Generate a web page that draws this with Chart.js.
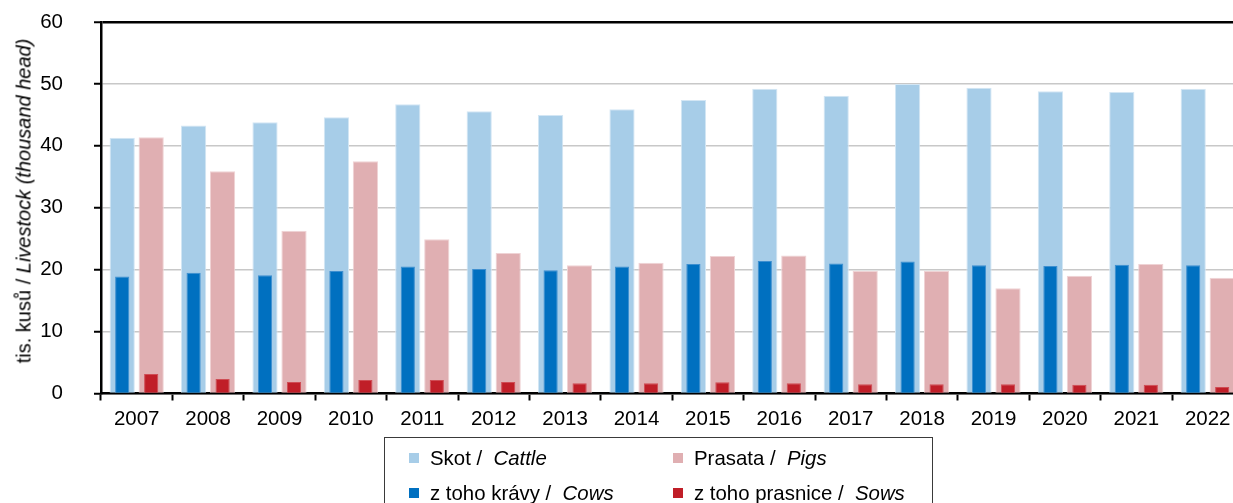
<!DOCTYPE html>
<html lang="cs">
<head>
    <meta charset="UTF-8">
    <title>Skot a prasata</title>
    <script src="https://cdn.jsdelivr.net/npm/chart.js"></script>
    <style>
        html, body { margin: 0; padding: 0; background: #fff; }
        body { font-family: "Liberation Sans", Arial, sans-serif; color: #000; }
        .wrap { position: relative; width: 1233px; height: 503px; overflow: hidden; }
        #chart { position: absolute; left: 0; top: 0; }
        .ytitle {
            position: absolute; left: 24px; top: 201px; white-space: nowrap;
            font-size: 20px; transform: translate(-50%, -50%) rotate(-90deg);
        }
        .legend {
            position: absolute; left: 384px; top: 437px; width: 549px; height: 90px;
            border: 1.5px solid #3a3a3a; box-sizing: border-box;
        }
        .item { position: absolute; font-size: 20.4px; white-space: nowrap; line-height: 20px; }
        .item .box { position: absolute; left: -21px; top: 5px; width: 10px; height: 10px; }
    </style>
</head>
<body>
    <div class="wrap">
        <canvas id="chart" width="1250" height="503"></canvas>
        <div class="ytitle">tis. kusů / <i>Livestock (thousand head)</i></div>
        <div class="legend" id="legend"></div>
    </div>

    <script>
        // Data (thousand head)
        const years = ['2007', '2008', '2009', '2010', '2011', '2012', '2013', '2014',
                       '2015', '2016', '2017', '2018', '2019', '2020', '2021', '2022'];
        const cattle = [41.3, 43.3, 43.8, 44.6, 46.7, 45.6, 45.0, 45.9, 47.4, 49.2, 48.1, 50.0, 49.4, 48.8, 48.7, 49.2];
        const cows = [18.9, 19.5, 19.1, 19.8, 20.5, 20.1, 19.9, 20.5, 20.9, 21.4, 21.0, 21.3, 20.7, 20.6, 20.8, 20.7];
        const pigs = [41.4, 35.9, 26.3, 37.5, 24.9, 22.7, 20.7, 21.1, 22.2, 22.3, 19.8, 19.8, 17.0, 19.0, 20.9, 18.7];
        const sows = [3.15, 2.34, 1.86, 2.18, 2.2, 1.86, 1.65, 1.65, 1.8, 1.65, 1.5, 1.5, 1.5, 1.4, 1.4, 1.05];
        const yTicks = [0, 10, 20, 30, 40, 50, 60];

        const namesCz = { cattle: 'Skot', pigs: 'Prasata', cows: 'z toho krávy', sows: 'z toho prasnice' };
        const namesEn = { cattle: 'Cattle', pigs: 'Pigs', cows: 'Cows', sows: 'Sows' };
        const colors = { cattle: '#a7cde8', pigs: '#e0afb2', cows: '#0070c0', sows: '#c01e28' };
        const edges = { cattle: '#d3e6f4', pigs: '#efd3d5', cows: '#3d8fd0', sows: '#cf4c54' };

        const FONT = '"Liberation Sans", Arial, sans-serif';
        Chart.defaults.font.family = FONT;
        Chart.defaults.color = '#000';

        function bar(key, values, stack, width) {
            return {
                label: namesCz[key] + ' / ' + namesEn[key],
                data: values,
                stack: stack,
                backgroundColor: colors[key],
                borderColor: edges[key],
                borderWidth: 1,
                categoryPercentage: 0.812,
                barPercentage: width
            };
        }

        // narrow bars first so they are painted on top of the wide ones
        const chart = new Chart(document.getElementById('chart'), {
            type: 'bar',
            data: {
                labels: years,
                datasets: [
                    bar('cows', cows, 'a', 0.49),
                    bar('sows', sows, 'b', 0.49),
                    bar('cattle', cattle, 'a', 0.87),
                    bar('pigs', pigs, 'b', 0.87)
                ]
            },
            options: {
                responsive: false,
                animation: false,
                layout: { padding: { top: 22, right: 6.6, left: 0, bottom: 69.5 } },
                plugins: { legend: { display: false }, tooltip: { enabled: false } },
                scales: {
                    x: {
                        afterFit: (s) => { s.height = 40; },
                        border: { color: '#000', width: 2.5 },
                        grid: {
                            offset: true, drawOnChartArea: false, tickLength: 7,
                            tickColor: '#000', tickWidth: 2
                        },
                        ticks: { font: { size: 20.5 }, padding: 7, maxRotation: 0, autoSkip: false }
                    },
                    y: {
                        stacked: false,
                        min: 0, max: 60,
                        // big label padding pushes the labels left; keep it out of the layout
                        afterFit: (s) => { s.width = 101; s.paddingTop = 12; s.paddingBottom = 12; },
                        afterBuildTicks: (s) => { s.ticks = yTicks.map(v => ({ value: v })); },
                        border: { color: '#000', width: 2.5 },
                        grid: {
                            color: (c) => c.tick && c.tick.value === 60 ? '#000' : '#c8c8c8',
                            lineWidth: (c) => c.tick && c.tick.value === 60 ? 2.5 : 1.5,
                            tickLength: 7, tickColor: '#000', tickWidth: 2
                        },
                        ticks: { font: { size: 20.5 }, padding: 31 }
                    }
                }
            }
        });

        // Legend: two columns, Czech name normal, English name italic
        const legendSlots = [
            { key: 'cattle', x: 45, y: 10 },
            { key: 'pigs', x: 309, y: 10 },
            { key: 'cows', x: 45, y: 45 },
            { key: 'sows', x: 309, y: 45 }
        ];
        const legend = document.getElementById('legend');
        legendSlots.forEach(s => {
            const el = document.createElement('div');
            el.className = 'item';
            el.style.left = s.x + 'px';
            el.style.top = s.y + 'px';
            el.innerHTML = '<span class="box" style="background:' + colors[s.key] + '"></span>' +
                namesCz[s.key] + ' / &nbsp;<i>' + namesEn[s.key] + '</i>';
            legend.appendChild(el);
        });
    </script>
</body>
</html>
